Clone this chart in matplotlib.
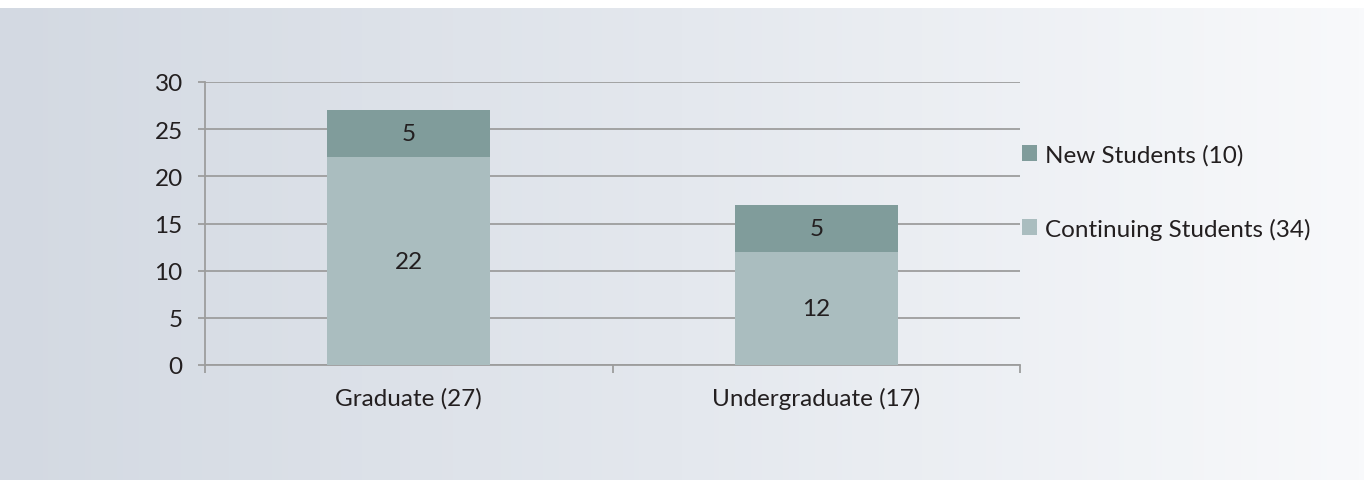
import matplotlib
matplotlib.use("Agg")
import matplotlib.pyplot as plt
import numpy as np
from matplotlib.colors import LinearSegmentedColormap

plt.rcParams["font.family"] = ["Lato", "DejaVu Sans"]

# ── 데이터 ────────────────────────────────────────────
categories = ["Graduate (27)", "Undergraduate (17)"]
continuing = [22, 12]
new = [5, 5]
series_labels = ["New Students (10)", "Continuing Students (34)"]
yticks = [0, 5, 10, 15, 20, 25, 30]

C_NEW = "#809c9b"
C_CONT = "#aabdbf"
GRID = "#9d9d9d"
TXT = "#231f20"
FS = 17.5

fig = plt.figure(figsize=(13.64, 4.81), dpi=100)

# 배경 그라데이션 (왼쪽 진한 회청색 → 오른쪽 거의 흰색)
bg = fig.add_axes([0, 0, 1, 1 - 9 / 481], zorder=-10)
cmap = LinearSegmentedColormap.from_list("bg", ["#d3d9e2", "#e4e8ee", "#f8f9fb"])
bg.imshow(np.linspace(0, 1, 256)[None, :], aspect="auto", cmap=cmap,
          extent=[0, 1, 0, 1])
bg.axis("off")

ax = fig.add_axes([205 / 1364, 1 - 366 / 481, (1020 - 205) / 1364, (366 - 83) / 481])
ax.patch.set_alpha(0)

x = np.arange(len(categories))
b1 = ax.bar(x, continuing, 0.4, color=C_CONT, zorder=3, label=series_labels[1])
b2 = ax.bar(x, new, 0.4, bottom=continuing, color=C_NEW, zorder=3, label=series_labels[0])

for bars, vals, bottoms in [(b1, continuing, [0] * len(x)), (b2, new, continuing)]:
    for bar, v, b in zip(bars, vals, bottoms):
        ax.text(bar.get_x() + bar.get_width() / 2, b + v / 2, str(v),
                ha="center", va="center", fontsize=FS, color=TXT, zorder=4)

ax.set_xlim(-0.5, 1.5)
ax.set_ylim(0, 30)
ax.set_yticks(yticks)
ax.set_yticklabels([str(t) for t in yticks], fontsize=FS, color=TXT)
ax.set_xticks(x)
ax.set_xticklabels(categories, fontsize=FS, color=TXT)
ax.tick_params(axis="x", length=0, pad=16)
ax.tick_params(axis="y", length=5, color=GRID, width=1.3, pad=11)
# 카테고리 경계 눈금
ax.set_xticks([-0.5, 0.5, 1.5], minor=True)
ax.tick_params(axis="x", which="minor", length=6, color=GRID, width=1.3)

ax.grid(axis="y", color=GRID, linewidth=1.3, zorder=0)
for s in ["top", "right"]:
    ax.spines[s].set_visible(False)
ax.spines["left"].set_color(GRID)
ax.spines["left"].set_linewidth(1.3)
ax.spines["bottom"].set_color(GRID)
ax.spines["bottom"].set_linewidth(1.3)

handles = [b2, b1]
leg = fig.legend(handles, series_labels, loc="upper left",
                 bbox_to_anchor=(1022 / 1364, 1 - 145 / 481),
                 frameon=False, fontsize=FS, handlelength=0.63, handleheight=0.63,
                 handletextpad=0.3, labelspacing=2.15, borderpad=0, borderaxespad=0)
for t in leg.get_texts():
    t.set_color(TXT)

fig.savefig("out.png", dpi=100)
